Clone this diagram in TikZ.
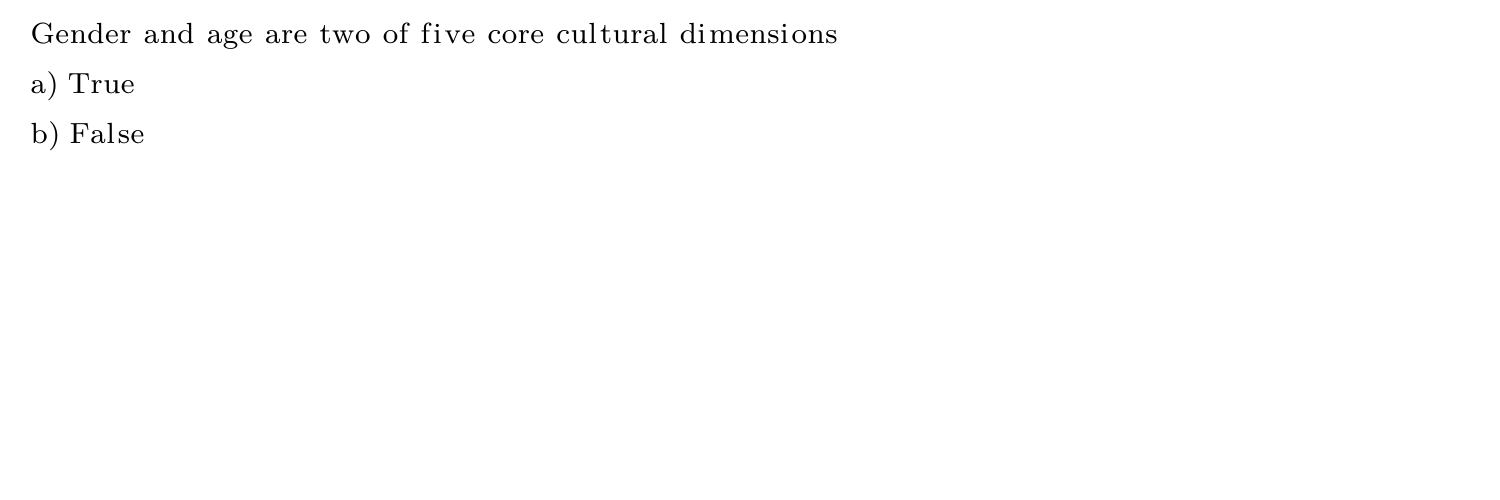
\documentclass[tikz,border=0pt]{standalone}
\ExplSyntaxOn
\NewDocumentCommand \qspaced { O{3.5pt} m }
  {
    \str_map_inline:nn {#2}
      {
        \str_case:nnF {##1}
          {
            {~} { \unkern \hskip #1 \relax }
            {i} { i \kern 0.85pt \relax }
            {l} { l \kern 0.85pt \relax }
            {f} { f \kern 0.85pt \relax }
          }
          { ##1 \kern 0.14pt \relax }
      }
    \unkern
  }
\ExplSyntaxOff
\tikzset{qline/.style={anchor=base west, inner sep=0pt, font=\fontsize{8.3}{10}\selectfont}}
\begin{document}
\begin{tikzpicture}
                \useasboundingbox (0, 0) rectangle (15, 5);
                \node (question) at (0.30, 4.56) [qline] {\qspaced{Gender and age are two of five core cultural dimensions}};
                \node (optA) at (0.30, 4.06) [qline] {\qspaced[2.6pt]{a) True}};
                \node (optB) at (0.30, 3.56) [qline] {\qspaced[2.6pt]{b) False}};
            \end{tikzpicture}
\end{document}
